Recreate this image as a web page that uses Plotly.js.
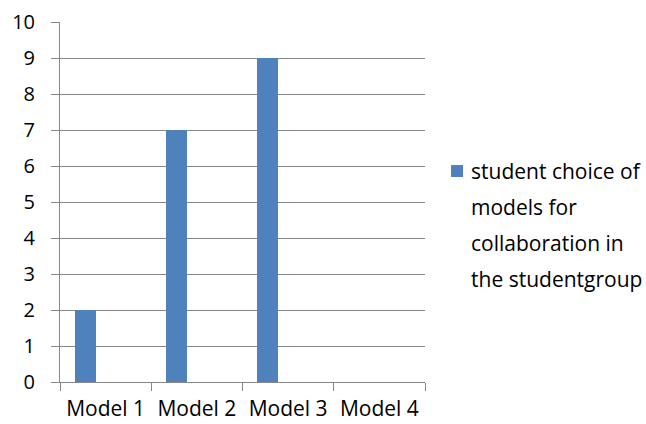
<!DOCTYPE html>
<html>
<head>
<meta charset="utf-8">
<script src="https://cdn.plot.ly/plotly-3.0.1.min.js"></script>
<style>html,body{margin:0;padding:0;background:#fff;}#chart{width:646px;height:424px;}</style>
</head>
<body>
<div id="chart"></div>
<script>
const categories = ["Model 1", "Model 2", "Model 3", "Model 4"];
const values = [2, 7, 9, 0];
const seriesName = "student choice of<br>models for<br>collaboration in<br>the studentgroup";
const yTicks = [0, 1, 2, 3, 4, 5, 6, 7, 8, 9, 10];

const fontFam = "Open Sans, Liberation Sans, sans-serif";
const fs = 20;
const lfs = 21;
const gridCol = "#878787";

const trace = {
  type: "bar",
  x: categories,
  y: values,
  name: seriesName,
  marker: {color: "#4F81BD", line: {width: 0}},
  width: 0.23,
  offset: -0.336,
  showlegend: true,
  hoverinfo: "x+y"
};

const layout = {
  width: 646,
  height: 424,
  margin: {l: 60, r: 221, t: 22, b: 42, pad: 0, autoexpand: false},
  paper_bgcolor: "#fff",
  plot_bgcolor: "#fff",
  font: {family: fontFam, size: fs, color: "#000"},
  showlegend: true,
  xaxis: {
    type: "category",
    tickson: "boundaries",
    ticks: "outside",
    ticklen: 8,
    tickcolor: gridCol,
    tickwidth: 1,
    showline: true,
    linecolor: gridCol,
    linewidth: 1,
    showgrid: false,
    zeroline: false,
    ticklabelstandoff: 8,
    tickfont: {family: fontFam, size: 21, color: "#000"},
    range: [-0.5, 3.5]
  },
  yaxis: {
    range: [0, 10],
    tickvals: yTicks,
    ticktext: yTicks.map(String),
    ticks: "outside",
    ticklen: 8,
    tickcolor: gridCol,
    showline: true,
    linecolor: gridCol,
    linewidth: 1,
    showgrid: true,
    gridcolor: gridCol,
    gridwidth: 1,
    zeroline: false,
    ticklabelstandoff: 12,
    tickfont: {family: fontFam, size: fs, color: "#000"}
  },
  legend: {
    x: 1.033,
    xanchor: "left",
    y: 0.642,
    yanchor: "top",
    valign: "top",
    bgcolor: "rgba(0,0,0,0)",
    font: {family: fontFam, size: lfs, color: "#000"},
    itemwidth: 30,
    tracegroupgap: 0
  },
  bargap: 0
};

Plotly.newPlot("chart", [trace], layout, {displayModeBar: false, staticPlot: true}).then(function (gd) {
  // match the reference's wider legend line spacing and tighter symbol gap
  gd.querySelectorAll(".legend [clip-path]").forEach(function (el) { el.removeAttribute("clip-path"); });
  const t = gd.querySelector(".legendtext");
  if (!t) return;
  const x = parseFloat(t.getAttribute("x")) - 6;
  t.setAttribute("x", x);
  const lines = t.querySelectorAll("tspan.line");
  lines.forEach(function (ts, i) {
    ts.setAttribute("x", x);
    ts.setAttribute("dy", (i * 36 / lfs) + "em");
  });
});
</script>
</body>
</html>
